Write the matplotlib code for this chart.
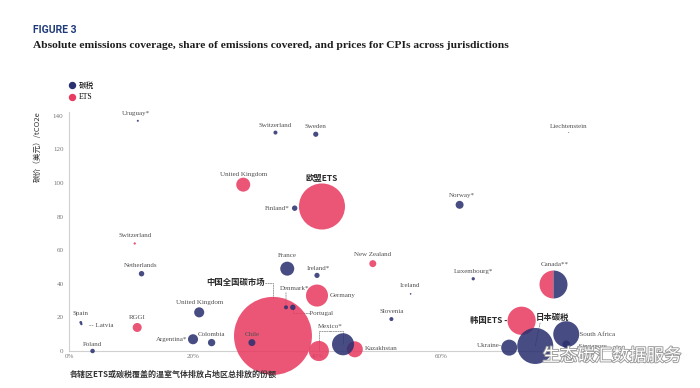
import matplotlib
matplotlib.use("Agg")
import matplotlib.pyplot as plt
import matplotlib.transforms as mtransforms
import matplotlib.patheffects as pe
from matplotlib.lines import Line2D
import numpy as np

# ---------------- data ----------------
tax_names = ["Uruguay*", "Switzerland", "Sweden", "Finland*", "Norway*", "Liechtenstein",
             "Netherlands", "France", "Ireland*", "Denmark*", "Portugal", "Spain", "Latvia",
             "Poland", "United Kingdom", "Argentina*", "Colombia", "Chile", "Mexico*",
             "Slovenia", "Iceland", "Luxembourg*", "日本碳税", "South Africa", "Singapore",
             "Ukraine"]
tax_share = [11.1, 33.3, 39.8, 36.4, 63.0, 80.6, 11.7, 35.2, 40.0, 35.0, 36.1, 1.9, 2.0,
             3.8, 21.0, 20.0, 23.0, 29.5, 44.2, 52.0, 55.1, 65.2, 75.2, 80.2, 80.2, 71.0]
tax_price = [137, 130, 129, 85, 87, 130, 46, 49, 45, 26, 26, 17, 16, 0, 23, 7, 5, 5, 4,
             19, 34, 43, 3, 10, 4, 2]
tax_mt = [3, 12, 20, 22, 47, 0.6, 22, 145, 20, 12, 22, 6, 4, 15, 75, 75, 40, 36, 360,
          12, 2, 8, 960, 500, 45, 190]

ets_names = ["United Kingdom", "欧盟ETS", "Switzerland", "中国全国碳市场", "Germany", "RGGI",
             "New Zealand", "Mexico*", "Kazakhstan", "韩国ETS"]
ets_share = [28.1, 40.8, 10.6, 32.9, 40.0, 11.0, 49.0, 40.3, 46.1, 73.0]
ets_price = [99, 86, 64, 9, 33, 14, 52, 0, 1, 18]
ets_mt = [145, 1570, 4, 4500, 360, 60, 36, 300, 190, 590]

canada_name = "Canada**"
canada_share = 78.1
canada_price = 40
canada_mt = 580

x_ticks = [0, 20, 40, 60]
x_ticklabels = ["0%", "20%", "40%", "60%"]
y_ticks = [0, 20, 40, 60, 80, 100, 120, 140]

# ---------------- style ----------------
NAVY = "#2b3170"
RED = "#e83c62"
ALPHA = 0.87
K = 0.70  # marker area (pt^2) per MtCO2e
SERIF = ["Liberation Serif", "Noto Sans CJK SC", "DejaVu Sans"]
CJK = ["Noto Sans CJK SC", "DejaVu Sans"]
plt.rcParams["font.family"] = SERIF

fig = plt.figure(figsize=(7, 3.88), dpi=100)
ax = fig.add_axes([69 / 700, 37 / 388, 558 / 700, 238.6 / 388])
ax.set_xlim(0, 90)
ax.set_ylim(0, 142)

ax.scatter(ets_share, ets_price, s=K * np.array(ets_mt), color=RED, alpha=ALPHA,
           linewidths=0, clip_on=False, zorder=2)
ax.scatter(tax_share, tax_price, s=K * np.array(tax_mt), color=NAVY, alpha=ALPHA,
           linewidths=0, clip_on=False, zorder=3)
ax.plot([canada_share], [canada_price], linestyle="none", marker="o",
        markersize=np.sqrt(K * canada_mt), fillstyle="left", markerfacecolor=RED,
        markerfacecoloralt=NAVY, markeredgewidth=0, alpha=ALPHA, clip_on=False, zorder=3)

for s in ["top", "right"]:
    ax.spines[s].set_visible(False)
for s in ["left", "bottom"]:
    ax.spines[s].set_color("#d0d0d0")
    ax.spines[s].set_linewidth(0.8)
    ax.spines[s].set_zorder(0.5)
ax.set_xticks(x_ticks)
ax.set_xticklabels(x_ticklabels)
ax.set_yticks(y_ticks)
ax.tick_params(length=0, labelsize=5, labelcolor="#777777")
ax.tick_params(axis="y", pad=4)
ax.tick_params(axis="x", pad=2.5)

# ---------------- labels ----------------
# (dx pt, dy pt, ha, cjk)
tax_lab = {
    "Uruguay*": (-1.4, 5, "center", False),
    "Switzerland": (0, 5, "center", False),
    "Sweden": (0, 5.8, "center", False),
    "Finland*": (-3.6, 0, "right", False),
    "Norway*": (1.4, 6.5, "center", False),
    "Liechtenstein": (0, 4.3, "center", False),
    "Netherlands": (-0.7, 5.8, "center", False),
    "France": (0, 9.4, "center", False),
    "Ireland*": (0.7, 5, "center", False),
    "Denmark*": (6.5, 13.7, "center", False),
    "Portugal": (10.8, -4.3, "left", False),
    "Spain": (0, 6.5, "center", False),
    "Latvia": (5.8, -0.7, "left", False),
    "Poland": (0, 5, "center", False),
    "United Kingdom": (0, 7.2, "center", False),
    "Argentina*": (-4.3, 0, "right", False),
    "Colombia": (0, 5.8, "center", False),
    "Chile": (0, 5.8, "center", False),
    "Mexico*": (-9.4, 13, "center", False),
    "Slovenia": (0, 5.8, "center", False),
    "Iceland": (-0.7, 5.8, "center", False),
    "Luxembourg*": (0, 5, "center", False),
    "日本碳税": (12.2, 20.5, "center", True),
    "South Africa": (7.9, 0, "left", False),
    "Singapore": (7.2, -1.4, "left", False),
    "Ukraine": (-5, 1.4, "right", False),
}
tax_text = {"Portugal": "-Portugal", "Latvia": "-- Latvia", "South Africa": "-South Africa",
            "Singapore": "-Singapore", "Ukraine": "Ukraine-"}
ets_lab = {
    "United Kingdom": (0, 7.2, "center", False),
    "欧盟ETS": (0, 20.5, "center", True),
    "Switzerland": (0, 5.8, "center", False),
    "中国全国碳市场": (-26.6, 38.2, "center", True),
    "Germany": (9.4, 0, "left", False),
    "RGGI": (0, 7.2, "center", False),
    "New Zealand": (0, 6.5, "center", False),
    "Kazakhstan": (7.2, 0.7, "left", False),
    "韩国ETS": (-10, 0, "right", True),
}
ets_text = {"韩国ETS": "韩国ETS -"}

LEAD = dict(arrowstyle="-", linestyle=(0, (2, 1.5)), color="#777777", lw=0.5,
            shrinkA=0, shrinkB=0)


def put_label(x, y, txt, spec):
    dx, dy, ha, cjk = spec
    if cjk:
        kw = dict(fontsize=6, fontweight="bold", color="#2a2a2a", family=CJK)
    else:
        kw = dict(fontsize=5, color="#505050", family=SERIF)
    ax.annotate(txt, xy=(x, y), xytext=(dx, dy), textcoords="offset points",
                ha=ha, va="center", zorder=4, annotation_clip=False, **kw)


def leader(x0, y0, dx, dy, x1, y1, style):
    tr = mtransforms.offset_copy(ax.transData, fig=fig, x=dx, y=dy, units="points")
    ax.annotate("", xy=(x1, y1), xytext=(x0, y0), textcoords=tr,
                arrowprops=dict(connectionstyle=style, **LEAD), zorder=1,
                annotation_clip=False)


for n, x, y in zip(tax_names, tax_share, tax_price):
    if n in tax_lab:
        put_label(x, y, tax_text.get(n, n), tax_lab[n])
for n, x, y in zip(ets_names, ets_share, ets_price):
    if n in ets_lab:
        put_label(x, y, ets_text.get(n, n), ets_lab[n])
put_label(canada_share, canada_price, canada_name, (1.4, 13.7, "center", False))

tx = dict(zip(tax_names, zip(tax_share, tax_price)))
et = dict(zip(ets_names, zip(ets_share, ets_price)))

# leader lines
dk = tx["Denmark*"]
leader(dk[0], dk[1], 0, 10.5, dk[0], dk[1], "arc3")
pt = tx["Portugal"]
leader(pt[0], pt[1], 10.3, -4.3, pt[0], pt[1], "angle,angleA=0,angleB=90,rad=0")
mx = tx["Mexico*"]
me = et["Mexico*"]
for tgt in (mx, me):
    leader(mx[0], mx[1], -9.4, 9.3, tgt[0], tgt[1], "angle,angleA=0,angleB=90,rad=0")
jp = tx["日本碳税"]
leader(jp[0], jp[1], 3.5, 16.5, jp[0], jp[1], "arc3")
cn = et["中国全国碳市场"]
leader(cn[0], cn[1], -5.5, 38.2, cn[0], cn[1] + 22, "angle,angleA=0,angleB=90,rad=0")

# ---------------- titles & legend ----------------
fig.text(33 / 700, 1 - 30 / 388, "FIGURE 3", fontsize=7.5, fontweight="bold",
         color="#1f3a78", family=["Roboto", "DejaVu Sans"], va="center", ha="left")
fig.text(33 / 700, 1 - 45 / 388,
         "Absolute emissions coverage, share of emissions covered, and prices for CPIs across jurisdictions",
         fontsize=8.25, fontweight="bold", color="#1d1d1d", family=SERIF, va="center", ha="left")

handles = [Line2D([], [], linestyle="none", marker="o", markersize=4.3, color=NAVY),
           Line2D([], [], linestyle="none", marker="o", markersize=4.3, color=RED)]
fig.legend(handles, ["碳税", "ETS"], loc="upper left", bbox_to_anchor=(64 / 700, 1 - 78 / 388),
           frameon=False, handlelength=1.0, handletextpad=0.4,
           labelspacing=0.45, borderpad=0, prop=dict(family=SERIF, size=5.5))

fig.text(38 / 700, 1 - 147 / 388, "碳价（美元）/tCO2e", rotation=90, fontsize=5.5,
         color="#333333", family=CJK, va="center", ha="center")
fig.text(70 / 700, 1 - 374 / 388, "各辖区ETS或碳税覆盖的温室气体排放占地区总排放的份额",
         fontsize=5.75, fontweight="bold", color="#333333", family=CJK, va="center", ha="left")

# watermark
fig.text(612 / 700, 1 - 356 / 388, "生态碳汇数据服务", fontsize=12.5, color="white",
         family=CJK, va="center", ha="center", zorder=10,
         path_effects=[pe.withStroke(linewidth=1.3, foreground="#9a9a9a")])

fig.savefig("out.png", dpi=100)
